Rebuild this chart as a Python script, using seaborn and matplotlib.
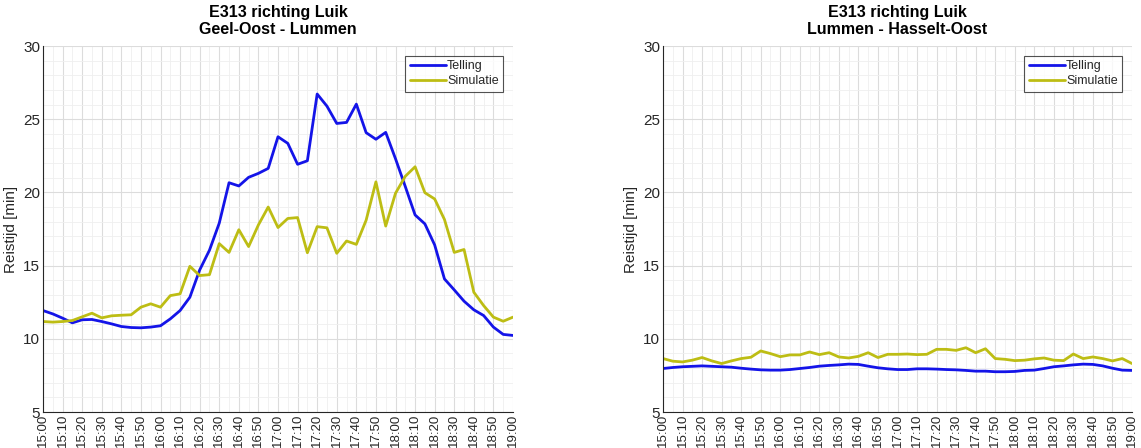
import numpy as np
import pandas as pd
import matplotlib
matplotlib.use("Agg")
import matplotlib.pyplot as plt
from matplotlib.ticker import MultipleLocator
import seaborn as sns

# ---- data ----
minutes = list(range(0, 241, 5))  # minutes after 15:00
tick_minutes = list(range(0, 241, 10))
tick_labels = ["15:00", "15:10", "15:20", "15:30", "15:40", "15:50",
               "16:00", "16:10", "16:20", "16:30", "16:40", "16:50",
               "17:00", "17:10", "17:20", "17:30", "17:40", "17:50",
               "18:00", "18:10", "18:20", "18:30", "18:40", "18:50", "19:00"]

telling_1 = [11.93, 11.70, 11.41, 11.09, 11.30, 11.32, 11.18, 11.02, 10.84, 10.77,
             10.75, 10.80, 10.89, 11.36, 11.93, 12.84, 14.70, 16.05, 17.90, 20.66,
             20.44, 21.03, 21.30, 21.64, 23.80, 23.35, 21.92, 22.16, 26.72, 25.89,
             24.71, 24.78, 26.03, 24.08, 23.63, 24.10, 22.30, 20.40, 18.46, 17.85,
             16.41, 14.09, 13.34, 12.57, 11.98, 11.59, 10.80, 10.30, 10.23]
simulatie_1 = [11.18, 11.14, 11.18, 11.25, 11.50, 11.75, 11.43, 11.57, 11.61, 11.64,
               12.16, 12.39, 12.16, 12.95, 13.07, 14.95, 14.32, 14.38, 16.50, 15.90,
               17.45, 16.30, 17.78, 19.00, 17.60, 18.22, 18.28, 15.88, 17.66, 17.58,
               15.84, 16.68, 16.45, 18.10, 20.72, 17.70, 19.94, 21.10, 21.75, 19.98,
               19.55, 18.15, 15.90, 16.10, 13.18, 12.27, 11.48, 11.20, 11.48]

telling_2 = [7.97, 8.04, 8.09, 8.12, 8.15, 8.12, 8.09, 8.06, 7.99, 7.93,
             7.88, 7.86, 7.86, 7.90, 7.97, 8.04, 8.13, 8.18, 8.22, 8.27,
             8.25, 8.13, 8.02, 7.95, 7.90, 7.90, 7.95, 7.95, 7.93, 7.90,
             7.88, 7.84, 7.79, 7.79, 7.75, 7.75, 7.77, 7.84, 7.86, 7.97,
             8.09, 8.15, 8.22, 8.27, 8.25, 8.15, 7.99, 7.86, 7.84]
simulatie_2 = [8.65, 8.47, 8.42, 8.54, 8.72, 8.49, 8.31, 8.49, 8.65, 8.74,
               9.17, 8.99, 8.78, 8.90, 8.90, 9.10, 8.92, 9.05, 8.76, 8.69,
               8.80, 9.05, 8.72, 8.94, 8.94, 8.96, 8.92, 8.94, 9.28, 9.28,
               9.21, 9.39, 9.05, 9.32, 8.65, 8.60, 8.51, 8.54, 8.63, 8.69,
               8.54, 8.51, 8.96, 8.65, 8.76, 8.65, 8.49, 8.65, 8.31]

titles = ["E313 richting Luik\nGeel-Oost - Lummen",
          "E313 richting Luik\nLummen - Hasselt-Oost"]
series_names = ["Telling", "Simulatie"]
ylabel = "Reistijd [min]"

# ---- style ----
sns.set_theme(style="white")
plt.rcParams['font.family'] = ['Liberation Sans', 'DejaVu Sans']
colors = {"Telling": "#1414E8", "Simulatie": "#BDBD14"}
txt = "#262626"

fig = plt.figure(figsize=(11.41, 4.48), dpi=100)
ax1 = fig.add_axes([43 / 1141, 36 / 448, 470 / 1141, 366 / 448])
ax2 = fig.add_axes([663 / 1141, 36 / 448, 469 / 1141, 366 / 448])

datasets = [(telling_1, simulatie_1), (telling_2, simulatie_2)]
for ax, (tel, sim), title in zip([ax1, ax2], datasets, titles):
    df = pd.DataFrame({
        "t": minutes * 2,
        "v": tel + sim,
        "serie": ["Telling"] * len(tel) + ["Simulatie"] * len(sim),
    })
    sns.lineplot(data=df, x="t", y="v", hue="serie", hue_order=series_names,
                 palette=colors, linewidth=2.0, ax=ax, legend=True)
    ax.set_xlim(0, 240)
    ax.set_ylim(5, 30)
    ax.set_xticks(tick_minutes)
    ax.set_xticklabels(tick_labels, rotation=90, fontsize=9.5, color=txt)
    ax.set_yticks([5, 10, 15, 20, 25, 30])
    ax.set_yticklabels(["5", "10", "15", "20", "25", "30"], fontsize=11, color=txt)
    ax.xaxis.set_minor_locator(MultipleLocator(5))
    ax.yaxis.set_minor_locator(MultipleLocator(1))
    ax.grid(which="major", color="#DCDCDC", linewidth=0.8)
    ax.grid(which="minor", color="#EFEFEF", linewidth=0.6)
    ax.set_axisbelow(True)
    ax.tick_params(axis="both", which="major", direction="in", length=5,
                   width=0.8, color="#262626", pad=2)
    ax.tick_params(axis="x", which="major", pad=1.5)
    ax.tick_params(axis="both", which="minor", length=0)
    for s in ["top", "right"]:
        ax.spines[s].set_visible(False)
    for s in ["left", "bottom"]:
        ax.spines[s].set_color("#262626")
        ax.spines[s].set_linewidth(0.8)
    ax.set_xlabel("")
    ax.set_ylabel(ylabel, fontsize=11, color=txt, labelpad=4)
    ax.set_title(title, fontsize=11.5, fontweight="bold", color="black", pad=9,
                 linespacing=1.15)
    leg = ax.legend(loc="upper right", fontsize=9, frameon=True, fancybox=False,
                    handlelength=2.9, handletextpad=0.1, borderpad=0.35,
                    labelspacing=0.25, borderaxespad=0.8)
    leg.get_frame().set_edgecolor("#262626")
    leg.get_frame().set_linewidth(0.8)
    for t in leg.get_texts():
        t.set_color(txt)

fig.savefig("out.png", dpi=100)
